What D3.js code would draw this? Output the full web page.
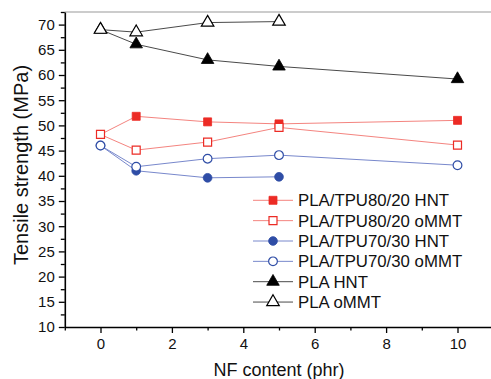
<!DOCTYPE html>
<html>
<head>
<meta charset="utf-8">
<script src="https://cdn.jsdelivr.net/npm/d3@7"></script>
<style>
  body { margin: 0; background: #fff; }
  text { font-family: "Liberation Sans", Arial, sans-serif; fill: #111; }
</style>
</head>
<body>
<script>
const width = 491;
const height = 379;

// data
const nfContent = [0, 1, 3, 5, 10];
const seriesNames = ["PLA/TPU80/20 HNT", "PLA/TPU80/20 oMMT", "PLA/TPU70/30 HNT", "PLA/TPU70/30 oMMT", "PLA HNT", "PLA oMMT"];
const tpu8020HNT = [48.2, 51.8, 50.7, 50.3, 51.0];
const tpu8020oMMT = [48.2, 45.1, 46.7, 49.6, 46.1];
const tpu7030HNT = [46.0, 41.0, 39.6, 39.8, null];
const tpu7030oMMT = [46.0, 41.8, 43.4, 44.1, 42.1];
const plaHNT = [69.0, 66.1, 63.0, 61.7, 59.2];
const plaOMMT = [69.0, 68.5, 70.4, 70.6, null];
const yTicks = [10, 15, 20, 25, 30, 35, 40, 45, 50, 55, 60, 65, 70];
const xTicks = [0, 2, 4, 6, 8, 10];

const red = "#ec2b25", redLine = "#f4847f";
const blue = "#2f4da6", blueLine = "#7888cc";
const dark = "#000", darkLine = "#4a4a4a";

const series = [
  { name: seriesNames[0], values: tpu8020HNT, shape: "square", filled: true, color: red, line: redLine },
  { name: seriesNames[1], values: tpu8020oMMT, shape: "square", filled: false, color: red, line: redLine },
  { name: seriesNames[2], values: tpu7030HNT, shape: "circle", filled: true, color: blue, line: blueLine },
  { name: seriesNames[3], values: tpu7030oMMT, shape: "circle", filled: false, color: blue, line: blueLine },
  { name: seriesNames[4], values: plaHNT, shape: "triangle", filled: true, color: dark, line: darkLine },
  { name: seriesNames[5], values: plaOMMT, shape: "triangle", filled: false, color: dark, line: darkLine }
];

const x = d3.scaleLinear().domain([-1, 11]).range([64.8, 493.2]);
const y = d3.scaleLinear().domain([10, 72.5]).range([327, 12]);

const svg = d3.select("body").append("svg")
    .attr("width", width)
    .attr("height", height);

// top frame (light)
svg.append("line")
    .attr("x1", x(-1)).attr("x2", width)
    .attr("y1", y(72.5)).attr("y2", y(72.5))
    .attr("stroke", "#999").attr("stroke-width", 1);

// minor ticks
svg.append("g")
    .attr("transform", `translate(${x(-1)},0)`)
    .call(d3.axisLeft(y).tickValues(d3.range(12.5, 73, 5)).tickSize(4).tickFormat(""))
    .call(g => g.select(".domain").remove())
    .selectAll("line").attr("stroke-width", 1.3);

svg.append("g")
    .attr("transform", `translate(0,${y(10)})`)
    .call(d3.axisBottom(x).tickValues(d3.range(-1, 12, 2)).tickSize(3.5).tickFormat(""))
    .call(g => g.select(".domain").remove())
    .selectAll("line").attr("stroke-width", 1.3);

// major axes
const yAxis = svg.append("g")
    .attr("transform", `translate(${x(-1)},0)`)
    .call(d3.axisLeft(y).tickValues(yTicks).tickSize(6).tickPadding(4).tickSizeOuter(0));
yAxis.select(".domain").attr("stroke-width", 1.6);
yAxis.selectAll("line").attr("stroke-width", 1.3);
yAxis.selectAll("text").style("font-size", "15px").attr("fill", "#111");

const xAxis = svg.append("g")
    .attr("transform", `translate(0,${y(10)})`)
    .call(d3.axisBottom(x).tickValues(xTicks).tickSize(6).tickPadding(5).tickSizeOuter(0));
xAxis.select(".domain").attr("stroke-width", 1.6);
xAxis.selectAll("line").attr("stroke-width", 1.3);
xAxis.selectAll("text").style("font-size", "15px").attr("fill", "#111");

// axis titles
svg.append("text")
    .attr("transform", `translate(27.5,165) rotate(-90)`)
    .attr("text-anchor", "middle")
    .style("font-size", "20px")
    .text("Tensile strength (MPa)");

svg.append("text")
    .attr("x", 279).attr("y", 376)
    .attr("text-anchor", "middle")
    .style("font-size", "18px")
    .text("NF content (phr)");

const sym = {
  square: d3.symbol().type(d3.symbolSquare).size(64),
  circle: d3.symbol().type(d3.symbolCircle).size(60),
  triangle: d3.symbol().type(d3.symbolTriangle).size(68)
};

function drawMarker(sel, s) {
  sel.append("path")
      .attr("d", sym[s.shape]())
      .attr("fill", s.filled ? s.color : "#fff")
      .attr("stroke", s.color)
      .attr("stroke-width", s.filled ? 0.8 : 1.2);
}

const line = d3.line()
    .defined(d => d[1] != null)
    .x(d => x(d[0]))
    .y(d => y(d[1]));

series.forEach(s => {
  const pts = nfContent.map((c, i) => [c, s.values[i]]).filter(d => d[1] != null);
  const g = svg.append("g");
  g.append("path")
      .attr("d", line(pts))
      .attr("fill", "none")
      .attr("stroke", s.line)
      .attr("stroke-width", 1);
  g.selectAll("g")
      .data(pts)
      .join("g")
      .attr("transform", d => `translate(${x(d[0])},${y(d[1])})`)
      .each(function() { drawMarker(d3.select(this), s); });
});

// legend
const legend = svg.append("g").attr("transform", "translate(253,200.3)");
series.forEach((s, i) => {
  const row = legend.append("g").attr("transform", `translate(0,${i * 20.35})`);
  row.append("line")
      .attr("x1", 0).attr("x2", 40)
      .attr("stroke", s.line).attr("stroke-width", 1);
  drawMarker(row.append("g").attr("transform", "translate(20,0)"), s);
  row.append("text")
      .attr("x", 45).attr("y", 6)
      .style("font-size", "16.8px")
      .text(s.name);
});
</script>
</body>
</html>
